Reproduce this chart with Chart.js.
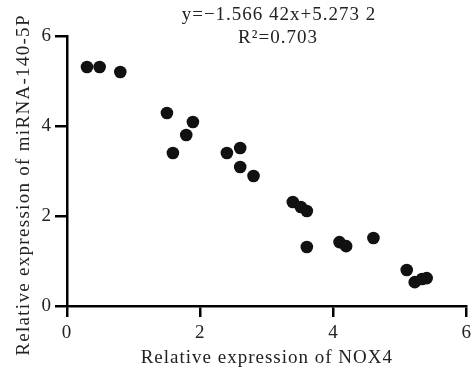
<!DOCTYPE html>
<html>
<head>
<meta charset="utf-8">
<script src="https://cdn.jsdelivr.net/npm/chart.js@4/dist/chart.umd.min.js"></script>
<style>
  html, body { margin: 0; padding: 0; background: #fff; }
  #wrap { width: 473px; height: 370px; }
</style>
</head>
<body>
<div id="wrap"><canvas id="chart" width="473" height="370"></canvas></div>
<script>
// NOX4 vs miR-140-5P scatter
const nox4 = [0.30, 0.49, 0.80, 1.50, 1.59, 1.79, 1.89, 2.40, 2.60, 2.60, 2.80,
              3.39, 3.51, 3.60, 3.60, 4.09, 4.19, 4.60, 5.10, 5.22, 5.33, 5.40];
const mir140 = [5.31, 5.31, 5.20, 4.29, 3.40, 3.80, 4.09, 3.40, 3.51, 3.09, 2.89,
                2.31, 2.20, 2.11, 1.31, 1.42, 1.33, 1.51, 0.80, 0.53, 0.60, 0.62];
const axisTicks = [0, 2, 4, 6];
const eqLines = ['y=\u22121.566 42x+5.273 2', 'R\u00b2=0.703'];
const yTitle = 'Relative expression of miRNA-140-5P';

const FONT = "'Liberation Serif', 'Times New Roman', serif";
const INK = '#222';

const spacing = {
  id: 'spacing',
  beforeLayout(chart) { chart.ctx.letterSpacing = '1px'; },
  beforeDraw(chart) { chart.ctx.letterSpacing = '1px'; }
};

// regression equation + y title (title sits a bit below the plot centre in the original)
const extraText = {
  id: 'extraText',
  afterDraw(chart) {
    const ctx = chart.ctx;
    ctx.save();
    ctx.letterSpacing = '1px';
    ctx.fillStyle = INK;
    ctx.font = '19px ' + FONT;
    ctx.textAlign = 'center';
    ctx.textBaseline = 'middle';
    ctx.fillText(eqLines[0], 279, 15);
    ctx.fillText(eqLines[1], 278, 38);
    ctx.letterSpacing = '1.3px';
    ctx.translate(24, 185);
    ctx.rotate(-Math.PI / 2);
    ctx.fillText(yTitle, 0, 0);
    ctx.restore();
  }
};

const scaleBase = (min, max) => ({
  type: 'linear',
  min, max,
  afterBuildTicks: s => { s.ticks = axisTicks.map(v => ({ value: v })); },
  grid: { drawOnChartArea: false, color: '#000', lineWidth: 2.5, tickColor: '#000', tickWidth: 2.5 },
  border: { color: '#000', width: 2.5 },
});

new Chart(document.getElementById('chart'), {
  type: 'scatter',
  data: {
    datasets: [{
      data: nox4.map((x, i) => ({ x, y: mir140[i] })),
      backgroundColor: '#111',
      borderWidth: 0,
      pointRadius: 6.3,
    }]
  },
  options: {
    responsive: false,
    animation: false,
    devicePixelRatio: 1,
    layout: { padding: { top: 36, right: 3, left: 0, bottom: 0 } },
    plugins: { legend: { display: false }, tooltip: { enabled: false } },
    scales: {
      x: {
        ...scaleBase(0, 6),
        grid: { ...scaleBase(0, 6).grid, tickLength: 11 },
        ticks: { color: INK, font: { family: FONT, size: 19 }, padding: 5, maxRotation: 0 },
        title: { display: true, text: 'Relative expression of NOX4', color: INK,
                 font: { family: FONT, size: 19 }, padding: { top: 0, bottom: 1 } },
        afterFit: s => { s.height = 64; s.paddingLeft = 0; s.paddingRight = 0; },
      },
      y: {
        ...scaleBase(0, 6),
        grid: { ...scaleBase(0, 6).grid, tickLength: 12 },
        ticks: { color: INK, font: { family: FONT, size: 19 }, padding: 3 },
        afterFit: s => { s.width = 67; s.paddingTop = 0; s.paddingBottom = 0; },
      }
    }
  },
  plugins: [spacing, extraText]
});
</script>
</body>
</html>
